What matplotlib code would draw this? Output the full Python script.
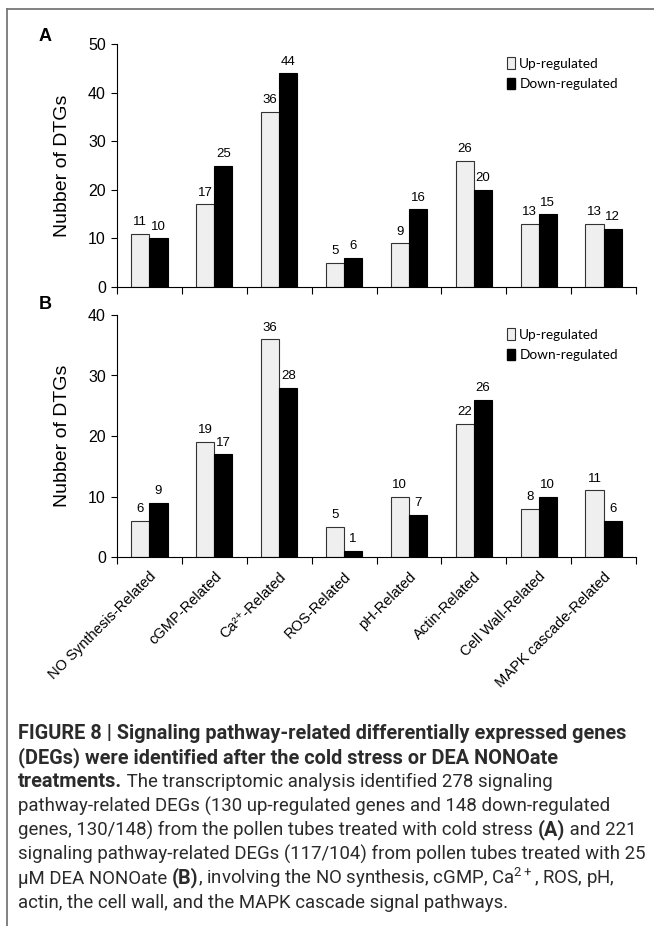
import matplotlib
matplotlib.use('Agg')
import matplotlib.pyplot as plt
import numpy as np
from matplotlib.lines import Line2D
from matplotlib.patches import Patch

plt.rcParams['font.family'] = ['Liberation Sans', 'DejaVu Sans']
plt.rcParams['mathtext.default'] = 'regular'

# categories and values
categories = ['NO Synthesis-Related', 'cGMP-Related', 'Ca\u00b2\u207a-Related', 'ROS-Related',
              'pH-Related', 'Actin-Related', 'Cell Wall-Related', 'MAPK cascade-Related']
a_up = [11, 17, 36, 5, 9, 26, 13, 13]
a_down = [10, 25, 44, 6, 16, 20, 15, 12]
b_up = [6, 19, 36, 5, 10, 22, 8, 11]
b_down = [9, 17, 28, 1, 7, 26, 10, 6]

W, H = 654, 926
fig = plt.figure(figsize=(W / 100, H / 100), dpi=100)

light = '#efefef'
bw = 0.28


def panel(rect, up, down, ymax, letter, letter_y, show_labels):
    ax = fig.add_axes(rect)
    x = np.arange(len(categories))
    ax.bar(x - bw / 2, up, bw, color=light, edgecolor='#333333', linewidth=0.8)
    ax.bar(x + bw / 2, down, bw, color='black', edgecolor='black', linewidth=0.8)
    for i in range(len(x)):
        ax.annotate(str(up[i]), (x[i] - bw / 2, up[i]), xytext=(0, 4), textcoords='offset points',
                    ha='center', va='bottom', fontsize=9.5)
        ax.annotate(str(down[i]), (x[i] + bw / 2, down[i]), xytext=(0, 4), textcoords='offset points',
                    ha='center', va='bottom', fontsize=9.5)
    ax.set_xlim(-0.5, len(x) - 0.5)
    ax.set_ylim(0, ymax)
    ax.set_yticks(np.arange(0, ymax + 1, 10))
    ax.tick_params(axis='y', labelsize=11.5, length=4, width=0.8, direction='out', pad=4)
    ax.set_xticks(np.arange(-0.5, len(x), 1))
    ax.set_xticklabels([])
    ax.tick_params(axis='x', length=5, width=0.8, direction='out')
    ax.set_xticks(x, minor=True)
    if show_labels:
        ax.set_xticklabels(categories, minor=True, rotation=45, ha='right',
                           rotation_mode='anchor', fontsize=10.5)
    ax.tick_params(axis='x', which='minor', length=0, pad=9)
    for s in ['top', 'right']:
        ax.spines[s].set_visible(False)
    ax.set_ylabel('Nubber of DTGs', fontsize=14)
    ax.yaxis.set_label_coords((71 - 117) / 519, 0.5)
    handles = [Patch(facecolor=light, edgecolor='#333333', linewidth=0.8, label='Up-regulated'),
               Patch(facecolor='black', edgecolor='black', label='Down-regulated')]
    ax.legend(handles=handles, loc='upper left', bbox_to_anchor=(0.728, 0.995), frameon=False,
              handlelength=0.55, handleheight=0.9, handletextpad=0.35, labelspacing=0.6,
              prop={'family': 'Lato', 'size': 9.8})
    ax.text((45 - 117) / 519, letter_y, letter, transform=ax.transAxes, fontsize=13,
            fontweight='bold', ha='center', va='center')
    return ax


panel([117 / W, 1 - 287 / H, 519 / W, 243 / H], a_up, a_down, 50, 'A', 1.029, False)
panel([117 / W, 1 - 557 / H, 519 / W, 242 / H], b_up, b_down, 40, 'B', 1.045, True)

# frame lines
fig.add_artist(Line2D([7 / W, 7 / W], [0, 1 - 9 / H], color='#777777', lw=1.3))
fig.add_artist(Line2D([7 / W, 1], [1 - 9 / H, 1 - 9 / H], color='#777777', lw=1.3))

# caption
renderer = fig.canvas.get_renderer()
cap_font = 'Roboto'
cap_color = '#2b2b2b'


def text_width(txt, size, bold):
    t = fig.text(0, 0, txt, fontsize=size, family=cap_font,
                 fontweight='bold' if bold else 'normal')
    w = t.get_window_extent(renderer).width
    t.remove()
    return w


# pick caption sizes so the widest lines fill the same width as in the figure
bold_size = 12 * 607 / text_width('FIGURE 8 | Signaling pathway-related differentially expressed genes', 12, True)
reg_size = 12 * 589 / text_width('pathway-related DEGs (130 up-regulated genes and 148 down-regulated', 12, False)


def rich_line(y_px, parts):
    x = 18 / W
    for txt, bold in parts:
        t = fig.text(x, 1 - y_px / H, txt, fontsize=bold_size if bold else reg_size, family=cap_font,
                     fontweight='bold' if bold else 'normal', color=cap_color,
                     ha='left', va='baseline')
        x += t.get_window_extent(renderer).width / fig.bbox.width


y0, dy = 739, 24.1
rich_line(y0, [('FIGURE 8 | Signaling pathway-related differentially expressed genes', True)])
rich_line(y0 + dy, [('(DEGs) were identified after the cold stress or DEA NONOate', True)])
rich_line(y0 + 2 * dy, [('treatments.', True), (' The transcriptomic analysis identified 278 signaling', False)])
rich_line(y0 + 3 * dy, [('pathway-related DEGs (130 up-regulated genes and 148 down-regulated', False)])
rich_line(y0 + 4 * dy, [('genes, 130/148) from the pollen tubes treated with cold stress ', False), ('(A)', True),
                        (' and 221', False)])
rich_line(y0 + 5 * dy, [('signaling pathway-related DEGs (117/104) from pollen tubes treated with 25', False)])
rich_line(y0 + 6 * dy, [('\u00b5M DEA NONOate ', False), ('(B)', True),
                        (', involving the NO synthesis, cGMP, Ca$^{2+}$, ROS, pH,', False)])
rich_line(y0 + 7 * dy, [('actin, the cell wall, and the MAPK cascade signal pathways.', False)])

fig.savefig('out.png', dpi=100)
